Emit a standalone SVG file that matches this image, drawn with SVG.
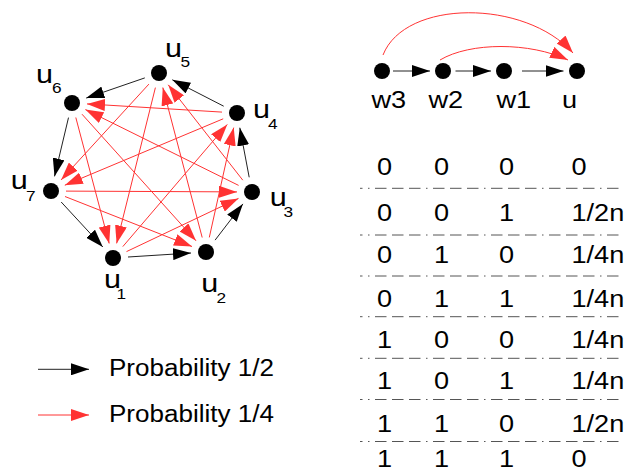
<svg xmlns="http://www.w3.org/2000/svg" width="624" height="470" viewBox="0 0 624 470">
<style>
text{font-family:"Liberation Sans",Arial,sans-serif;fill:#000}
.lbl{font-size:26px}
.sub{font-size:15px}
.t{font-size:23px}
.node{fill:#000}
.blk{stroke:#222;stroke-width:1;fill:none;marker-end:url(#ab)}
.red{stroke:#ff3333;stroke-width:1;fill:none;marker-end:url(#ar)}
.sep{stroke:#555;stroke-width:1;stroke-dasharray:11.5 5.5 11.5 5.5 11.5 5.5 1.5 5.5;stroke-dashoffset:43}
</style>
<defs>
<marker id="ab" markerUnits="userSpaceOnUse" markerWidth="18" markerHeight="12" refX="18" refY="6" orient="auto" viewBox="0 0 18 12"><path d="M0,0 L18,6 L0,12z" fill="#000"/></marker>
<marker id="ar" markerUnits="userSpaceOnUse" markerWidth="18" markerHeight="12" refX="18" refY="6" orient="auto" viewBox="0 0 18 12"><path d="M0,0 L18,6 L0,12z" fill="#ff3333"/></marker>
</defs>

<g id="connectors">
<line class="blk" x1="128" y1="257" x2="191" y2="253"/>
<line class="blk" x1="215.1" y1="240.1" x2="242.9" y2="203.9"/>
<line class="blk" x1="249.2" y1="177.3" x2="239.8" y2="127.7"/>
<line class="blk" x1="223.7" y1="106.2" x2="172.3" y2="79.8"/>
<line class="blk" x1="144.8" y1="77.9" x2="86.2" y2="98.1"/>
<line class="blk" x1="68.5" y1="117.6" x2="54.5" y2="176.4"/>
<line class="blk" x1="61.2" y1="202" x2="102.8" y2="247"/>
<line class="red" x1="126.5" y1="251.6" x2="238.5" y2="198.4"/>
<line class="red" x1="122.8" y1="246.6" x2="227.3" y2="124.4"/>
<line class="red" x1="209.3" y1="237.4" x2="233.7" y2="127.6"/>
<line class="red" x1="202.2" y1="237.5" x2="162.8" y2="87.5"/>
<line class="red" x1="242.8" y1="180.2" x2="168.2" y2="84.8"/>
<line class="red" x1="238.6" y1="185.4" x2="85.4" y2="109.6"/>
<line class="red" x1="222" y1="112.1" x2="87" y2="103.9"/>
<line class="red" x1="223.2" y1="118.8" x2="64.8" y2="185.2"/>
<line class="red" x1="148.9" y1="84.1" x2="61.1" y2="179.9"/>
<line class="red" x1="155.4" y1="87.6" x2="116.6" y2="243.4"/>
<line class="red" x1="75.8" y1="117.5" x2="109.2" y2="243.5"/>
<line class="red" x1="82" y1="114.2" x2="196" y2="240.8"/>
<line class="red" x1="65" y1="196.5" x2="192" y2="246.5"/>
<line class="red" x1="66" y1="191.1" x2="237" y2="191.9"/>
<line class="blk" x1="393" y1="71" x2="430" y2="71"/>
<line class="blk" x1="455.5" y1="71" x2="491" y2="71"/>
<line class="blk" x1="522" y1="71" x2="563.5" y2="71"/>
<path class="red" d="M383,55 C405,-1 525,-1 573,53"/>
<path class="red" d="M440,60 C470,42 530,42 568,60"/>
<line class="blk" x1="38" y1="369.3" x2="89" y2="369.3"/>
<line class="red" x1="38" y1="415" x2="89" y2="415"/>
</g>

<g id="u1"><circle class="node" cx="113" cy="258" r="8"/><text class="lbl" x="104" y="288" textLength="17" lengthAdjust="spacingAndGlyphs">u</text><text class="sub" x="116.5" y="298.5" textLength="9.6" lengthAdjust="spacingAndGlyphs">1</text></g>
<g id="u2"><circle class="node" cx="206" cy="252" r="8"/><text class="lbl" x="201.3" y="291.5" textLength="17" lengthAdjust="spacingAndGlyphs">u</text><text class="sub" x="216.5" y="303" textLength="9.6" lengthAdjust="spacingAndGlyphs">2</text></g>
<g id="u3"><circle class="node" cx="252" cy="192" r="8"/><text class="lbl" x="269.7" y="206" textLength="17" lengthAdjust="spacingAndGlyphs">u</text><text class="sub" x="283.5" y="217" textLength="9.6" lengthAdjust="spacingAndGlyphs">3</text></g>
<g id="u4"><circle class="node" cx="237" cy="113" r="8"/><text class="lbl" x="253" y="118" textLength="17" lengthAdjust="spacingAndGlyphs">u</text><text class="sub" x="268" y="128.5" textLength="9.6" lengthAdjust="spacingAndGlyphs">4</text></g>
<g id="u5"><circle class="node" cx="159" cy="73" r="8"/><text class="lbl" x="165" y="56.5" textLength="17" lengthAdjust="spacingAndGlyphs">u</text><text class="sub" x="180.5" y="67" textLength="9.6" lengthAdjust="spacingAndGlyphs">5</text></g>
<g id="u6"><circle class="node" cx="72" cy="103" r="8"/><text class="lbl" x="36" y="82.5" textLength="17" lengthAdjust="spacingAndGlyphs">u</text><text class="sub" x="52" y="93" textLength="9.6" lengthAdjust="spacingAndGlyphs">6</text></g>
<g id="u7"><circle class="node" cx="51" cy="191" r="8"/><text class="lbl" x="10.7" y="189" textLength="17" lengthAdjust="spacingAndGlyphs">u</text><text class="sub" x="26" y="201" textLength="9.6" lengthAdjust="spacingAndGlyphs">7</text></g>

<g id="w3"><circle class="node" cx="382" cy="71" r="8"/><text class="t" x="371.5" y="108" textLength="34.7" lengthAdjust="spacingAndGlyphs">w3</text></g>
<g id="w2"><circle class="node" cx="443" cy="71" r="8"/><text class="t" x="428.5" y="108" textLength="34.7" lengthAdjust="spacingAndGlyphs">w2</text></g>
<g id="w1"><circle class="node" cx="504" cy="71" r="8"/><text class="t" x="496.5" y="108" textLength="34.7" lengthAdjust="spacingAndGlyphs">w1</text></g>
<g id="u"><circle class="node" cx="577" cy="71" r="8"/><text class="t" x="562" y="108" textLength="15.1" lengthAdjust="spacingAndGlyphs">u</text></g>

<g id="legend">
<text class="t" x="109" y="376" textLength="165" lengthAdjust="spacingAndGlyphs">Probability 1/2</text>
<text class="t" x="109" y="421.7" textLength="165" lengthAdjust="spacingAndGlyphs">Probability 1/4</text>
</g>

<g id="table">
<line class="sep" x1="360" y1="188.3" x2="624" y2="188.3"/>
<line class="sep" x1="360" y1="235" x2="624" y2="235"/>
<line class="sep" x1="360" y1="276" x2="624" y2="276"/>
<line class="sep" x1="360" y1="316.7" x2="624" y2="316.7"/>
<line class="sep" x1="360" y1="358.3" x2="624" y2="358.3"/>
<line class="sep" x1="360" y1="399.5" x2="624" y2="399.5"/>
<line class="sep" x1="360" y1="441.5" x2="624" y2="441.5"/>
<text class="t" x="377" y="175" textLength="15.1" lengthAdjust="spacingAndGlyphs">0</text><text class="t" x="434" y="175" textLength="15.1" lengthAdjust="spacingAndGlyphs">0</text><text class="t" x="499" y="175" textLength="15.1" lengthAdjust="spacingAndGlyphs">0</text><text class="t" x="571.5" y="175" textLength="15.1" lengthAdjust="spacingAndGlyphs">0</text>
<text class="t" x="377" y="220.7" textLength="15.1" lengthAdjust="spacingAndGlyphs">0</text><text class="t" x="434" y="220.7" textLength="15.1" lengthAdjust="spacingAndGlyphs">0</text><text class="t" x="499" y="220.7" textLength="15.1" lengthAdjust="spacingAndGlyphs">1</text><text class="t" x="571.5" y="220.7" textLength="52.8" lengthAdjust="spacingAndGlyphs">1/2n</text>
<text class="t" x="377" y="262.7" textLength="15.1" lengthAdjust="spacingAndGlyphs">0</text><text class="t" x="434" y="262.7" textLength="15.1" lengthAdjust="spacingAndGlyphs">1</text><text class="t" x="499" y="262.7" textLength="15.1" lengthAdjust="spacingAndGlyphs">0</text><text class="t" x="571.5" y="262.7" textLength="52.8" lengthAdjust="spacingAndGlyphs">1/4n</text>
<text class="t" x="377" y="306.7" textLength="15.1" lengthAdjust="spacingAndGlyphs">0</text><text class="t" x="434" y="306.7" textLength="15.1" lengthAdjust="spacingAndGlyphs">1</text><text class="t" x="499" y="306.7" textLength="15.1" lengthAdjust="spacingAndGlyphs">1</text><text class="t" x="571.5" y="306.7" textLength="52.8" lengthAdjust="spacingAndGlyphs">1/4n</text>
<text class="t" x="377" y="348.3" textLength="15.1" lengthAdjust="spacingAndGlyphs">1</text><text class="t" x="434" y="348.3" textLength="15.1" lengthAdjust="spacingAndGlyphs">0</text><text class="t" x="499" y="348.3" textLength="15.1" lengthAdjust="spacingAndGlyphs">0</text><text class="t" x="571.5" y="348.3" textLength="52.8" lengthAdjust="spacingAndGlyphs">1/4n</text>
<text class="t" x="377" y="389.3" textLength="15.1" lengthAdjust="spacingAndGlyphs">1</text><text class="t" x="434" y="389.3" textLength="15.1" lengthAdjust="spacingAndGlyphs">0</text><text class="t" x="499" y="389.3" textLength="15.1" lengthAdjust="spacingAndGlyphs">1</text><text class="t" x="571.5" y="389.3" textLength="52.8" lengthAdjust="spacingAndGlyphs">1/4n</text>
<text class="t" x="377" y="432" textLength="15.1" lengthAdjust="spacingAndGlyphs">1</text><text class="t" x="434" y="432" textLength="15.1" lengthAdjust="spacingAndGlyphs">1</text><text class="t" x="499" y="432" textLength="15.1" lengthAdjust="spacingAndGlyphs">0</text><text class="t" x="571.5" y="432" textLength="52.8" lengthAdjust="spacingAndGlyphs">1/2n</text>
<text class="t" x="377" y="467" textLength="15.1" lengthAdjust="spacingAndGlyphs">1</text><text class="t" x="434" y="467" textLength="15.1" lengthAdjust="spacingAndGlyphs">1</text><text class="t" x="499" y="467" textLength="15.1" lengthAdjust="spacingAndGlyphs">1</text><text class="t" x="571.5" y="467" textLength="15.1" lengthAdjust="spacingAndGlyphs">0</text>
</g>
</svg>
